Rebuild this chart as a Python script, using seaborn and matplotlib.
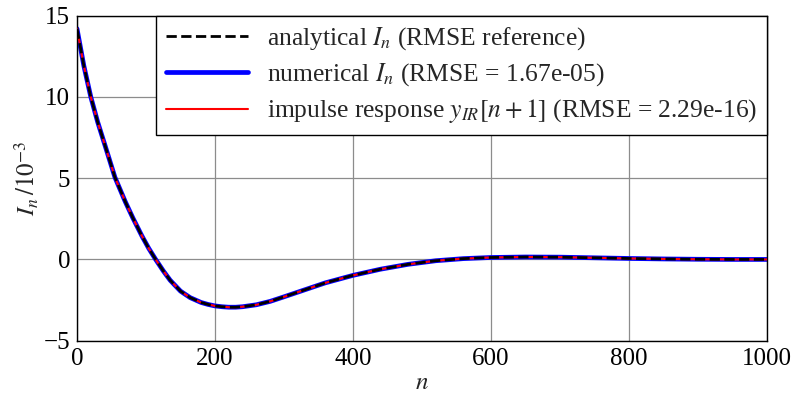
import numpy as np
import seaborn as sns
import matplotlib.pyplot as plt

# values (I_n in units of 1e-3)
n_vals = [0, 10, 20, 30, 40, 55, 70, 81, 94, 104, 114, 125, 135, 150, 164, 180,
          190, 200, 210, 220, 230, 240, 260, 280, 300, 330, 360, 400, 440, 480,
          520, 560, 600, 650, 700, 750, 800, 850, 900, 950, 1000]
i_vals = [14.2, 11.9, 10.0, 8.45, 7.1, 5.05, 3.55, 2.55, 1.45, 0.68, 0.0, -0.7,
          -1.28, -1.95, -2.35, -2.65, -2.77, -2.86, -2.91, -2.94, -2.94, -2.91,
          -2.79, -2.58, -2.3, -1.87, -1.44, -0.98, -0.6, -0.3, -0.08, 0.05,
          0.12, 0.15, 0.14, 0.1, 0.06, 0.03, 0.01, 0.0, 0.0]

labels = [
    r"analytical $I_n$ (RMSE reference)",
    r"numerical $I_n$ (RMSE = 1.67e-05)",
    r"impulse response $y_{IR}[n+1]$ (RMSE = 2.29e-16)",
]
x_ticks = [0, 200, 400, 600, 800, 1000]
y_ticks = [-5, 0, 5, 10, 15]

sns.set_theme(style="whitegrid")
plt.rcParams["font.family"] = ["Liberation Serif", "DejaVu Serif"]
plt.rcParams["mathtext.fontset"] = "stix"

fig = plt.figure(figsize=(7.93, 3.98), dpi=100)
ax = fig.add_axes([0.0971, 0.144, 0.8701, 0.8166])
ax.set_facecolor("white")

x = np.array(n_vals)
y = np.array(i_vals)

h_num = sns.lineplot(x=x, y=y, ax=ax, color="#0000ff", lw=3.4, sort=False, zorder=2).lines[-1]
h_ir = sns.lineplot(x=x, y=y, ax=ax, color="#ff0000", lw=1.5, sort=False, zorder=3).lines[-1]
h_an = sns.lineplot(x=x, y=y, ax=ax, color="black", lw=2.0, linestyle="--", sort=False, zorder=4).lines[-1]

ax.set_xlim(0, 1000)
ax.set_ylim(-5, 15)
ax.set_xticks(x_ticks)
ax.set_yticks(y_ticks)
ax.set_xticklabels([str(t) for t in x_ticks])
ax.set_yticklabels([str(t).replace("-", "\u2212") for t in y_ticks])
ax.tick_params(labelsize=18, length=0, pad=5, colors="black")
ax.grid(True, color="#8c8c8c", lw=0.9)
for s in ax.spines.values():
    s.set_color("black")
    s.set_linewidth(1.0)

ax.set_xlabel(r"$n$", fontsize=18, labelpad=2)
ax.set_ylabel(r"$I_n\,/10^{-3}$", fontsize=18, labelpad=2)

leg = ax.legend([h_an, h_num, h_ir], labels, loc="upper right", fontsize=18.4,
                frameon=True, fancybox=False, framealpha=1, borderaxespad=0,
                handlelength=3.2, handletextpad=0.75, labelspacing=0.36,
                borderpad=0.38)
leg.get_frame().set_edgecolor("black")
leg.get_frame().set_linewidth(1.0)

fig.savefig("out.png", dpi=100)
